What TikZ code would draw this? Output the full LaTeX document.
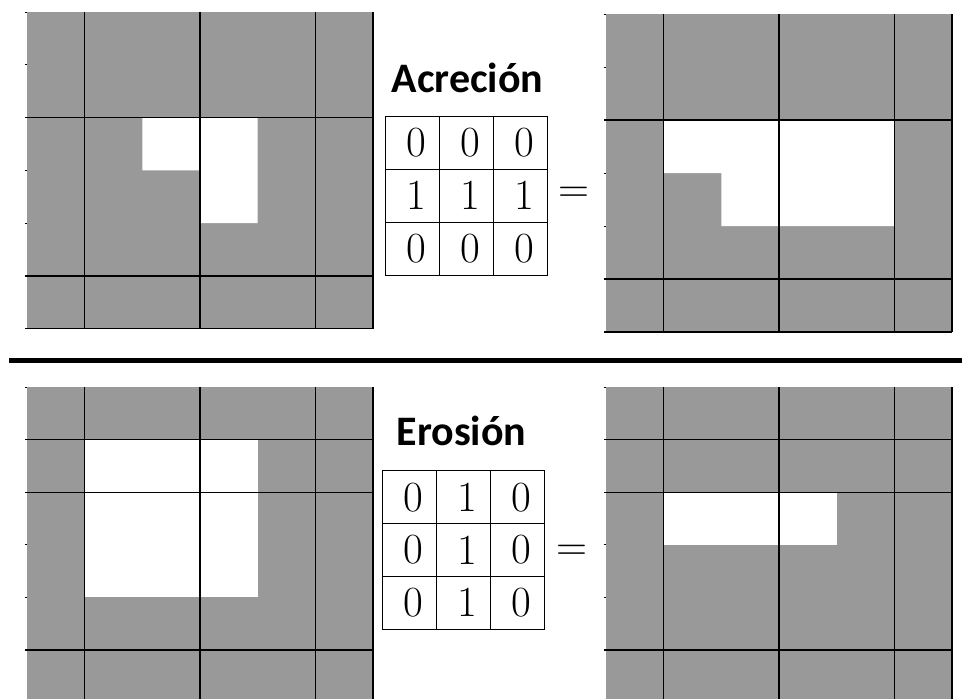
\documentclass[tikz,border=0pt]{standalone}
\usepackage{fontspec}
\newfontfamily\titlefont{Carlito}
\definecolor{pixgrey}{RGB}{153,153,153}

\begin{document}
\begin{tikzpicture}[x=1pt,y=-1pt,
  gridline/.style={line width=1.2pt},
  tickmark/.style={line width=1pt},
  kcell/.style={draw,line width=1pt,minimum width=53.7pt,minimum height=53pt,inner sep=0pt,font=\fontsize{43}{43}\selectfont},
  title/.style={anchor=base,font=\titlefont\bfseries\fontsize{42}{42}\selectfont},
  eqsign/.style={font=\fontsize{43}{43}\selectfont}]
  \useasboundingbox (0,0) rectangle (962,699);

  % original image, top
  \begin{scope}[shift={(27,12)},x=57.67pt,y=-52.8pt]
    \fill[pixgrey] (0,0) rectangle (6,6);
    \fill[white] (2,2) rectangle (3,3) (3,2) rectangle (4,4);
    \draw[gridline] (1,0) -- (1,6) (3,0) -- (3,6) (5,0) -- (5,6) (6,0) -- (6,6);
    \draw[gridline] (-0.03,2) -- (6,2) (-0.03,5) -- (6,5) (-0.03,6) -- (6,6);
    \draw[tickmark] (-0.04,0) -- (0,0) (-0.04,1) -- (0,1) (-0.04,3) -- (0,3) (-0.04,4) -- (0,4);
  \end{scope}

  % result, top
  \begin{scope}[shift={(606,14)},x=57.67pt,y=-53pt]
    \fill[pixgrey] (0,0) rectangle (6,6);
    \fill[white] (1,2) rectangle (5,3) (2,3) rectangle (5,4);
    \draw[gridline] (1,0) -- (1,6) (3,0) -- (3,6) (5,0) -- (5,6) (6,0) -- (6,6);
    \draw[gridline] (-0.03,2) -- (6,2) (-0.03,5) -- (6,5) (-0.03,6) -- (6,6);
    \draw[tickmark] (-0.04,0) -- (0,0) (-0.04,1) -- (0,1) (-0.04,3) -- (0,3) (-0.04,4) -- (0,4);
  \end{scope}

  \node[title] (acrecion) at (467.5,92) {Acreción};
  \foreach \a/\b/\c [count=\r] in {0/0/0,1/1/1,0/0/0} {
    \node[kcell] (acr\r1) at (412.8,{89.5+53*\r}) {\hspace*{8pt}\a};
    \node[kcell] (acr\r2) at (466.5,{89.5+53*\r}) {\hspace*{8pt}\b};
    \node[kcell] (acr\r3) at (520.2,{89.5+53*\r}) {\hspace*{8pt}\c};
  }
  \node[eqsign] (eqacr) at (574,195) {=};

  \draw[line width=5pt] (9,360) -- (962,360);

  % original image, bottom
  \begin{scope}[shift={(27,387)},x=57.67pt,y=-52.6pt]
    \fill[pixgrey] (0,0) rectangle (6,6);
    \fill[white] (1,1) rectangle (4,4);
    \draw[gridline] (1,0) -- (1,6) (3,0) -- (3,6) (5,0) -- (5,6) (6,0) -- (6,6);
    \draw[gridline] (-0.03,1) -- (6,1) (-0.03,2) -- (6,2) (-0.03,5) -- (6,5);
    \draw[tickmark] (-0.04,0) -- (0,0) (-0.04,3) -- (0,3) (-0.04,4) -- (0,4);
  \end{scope}

  % result, bottom
  \begin{scope}[shift={(606,387)},x=57.67pt,y=-52.6pt]
    \fill[pixgrey] (0,0) rectangle (6,6);
    \fill[white] (1,2) rectangle (4,3);
    \draw[gridline] (1,0) -- (1,6) (3,0) -- (3,6) (5,0) -- (5,6) (6,0) -- (6,6);
    \draw[gridline] (-0.03,1) -- (6,1) (-0.03,2) -- (6,2) (-0.03,5) -- (6,5);
    \draw[tickmark] (-0.04,0) -- (0,0) (-0.04,3) -- (0,3) (-0.04,4) -- (0,4);
  \end{scope}

  \node[title] (erosion) at (461.5,445) {Erosión};
  \foreach \a/\b/\c [count=\r] in {0/1/0,0/1/0,0/1/0} {
    \node[kcell] (ero\r1) at (409.8,{444.6+52.7*\r}) {\hspace*{8pt}\a};
    \node[kcell] (ero\r2) at (463.5,{444.6+52.7*\r}) {\hspace*{8pt}\b};
    \node[kcell] (ero\r3) at (517.2,{444.6+52.7*\r}) {\hspace*{8pt}\c};
  }
  \node[eqsign] (eqero) at (572,553) {=};
\end{tikzpicture}
\end{document}
